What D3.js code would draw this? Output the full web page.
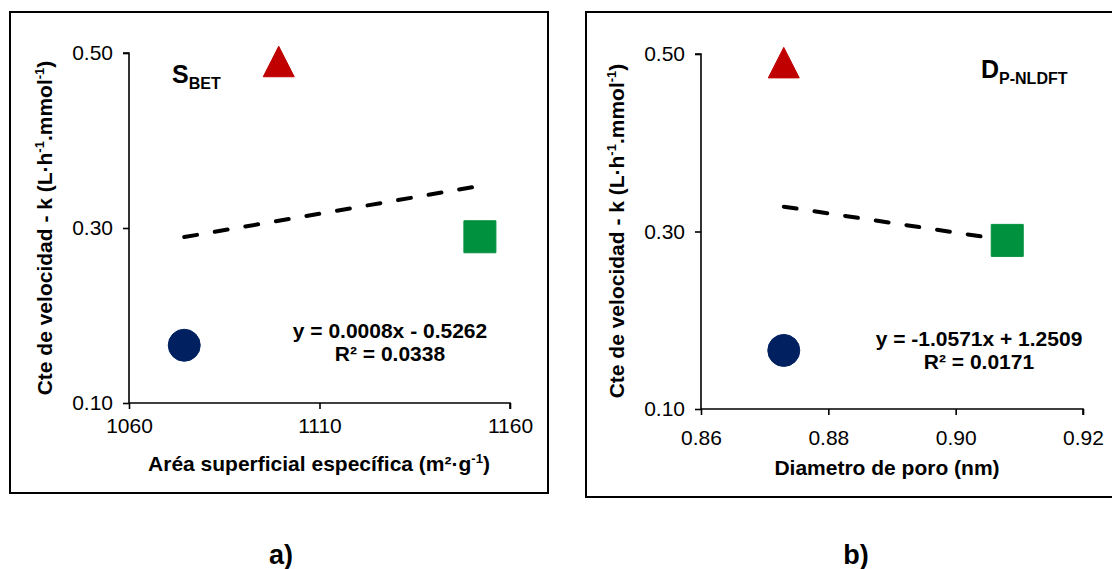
<!DOCTYPE html>
<html>
<head>
<meta charset="utf-8">
<script src="https://cdn.jsdelivr.net/npm/d3@7"></script>
<style>
  body { margin: 0; background: #fff; }
  svg text { font-family: "Liberation Sans", Arial, sans-serif; fill: #000; }
  .bold { font-weight: bold; }
</style>
</head>
<body>
<div id="chart"></div>
<script>
// data (same three samples in both panels)
var areaBET  = [1074.5, 1099.3, 1152.1]
var diamPoro = [0.873, 0.873, 0.9081]
var kRate    = [0.166, 0.49, 0.29]

var yTicks  = [0.10, 0.30, 0.50]
var xTicksA = [1060, 1110, 1160]
var xTicksB = [0.86, 0.88, 0.90, 0.92]

var eqA = ["y = 0.0008x - 0.5262", "R² = 0.0338"]
var eqB = ["y = -1.0571x + 1.2509", "R² = 0.0171"]

var shapes = ["circle", "triangle", "square"]
var colors = ["#002060", "#C00000", "#00913F"]

var W = 1112, H = 569
var svg = d3.select("#chart").append("svg")
    .attr("width", W)
    .attr("height", H)

function fit(xs, ys) {
    var mx = d3.mean(xs), my = d3.mean(ys)
    var sxy = d3.sum(xs, function(d, i) { return (d - mx) * (ys[i] - my) })
    var sxx = d3.sum(xs, function(d) { return (d - mx) * (d - mx) })
    var b = sxy / sxx
    return { b: b, a: my - b * mx }
}

function panel(opt) {
    var g = svg.append("g")

    g.append("rect")
        .attr("x", opt.frame[0]).attr("y", opt.frame[1])
        .attr("width", opt.frame[2]).attr("height", opt.frame[3])
        .attr("fill", "none").attr("stroke", "#000").attr("stroke-width", 2)

    var x = d3.scaleLinear().domain(opt.xDomain).range(opt.xRange)
    var y = d3.scaleLinear().domain([0.10, 0.50]).range(opt.yRange)

    // axes
    var ya = g.append("g")
        .attr("transform", "translate(" + opt.xRange[0] + ",0)")
        .call(d3.axisLeft(y).tickValues(yTicks).tickSize(6).tickPadding(10)
            .tickFormat(d3.format(".2f")))
    var xa = g.append("g")
        .attr("transform", "translate(0," + opt.yRange[0] + ")")
        .call(d3.axisBottom(x).tickValues(opt.xTicks).tickSize(6).tickPadding(opt.xPad)
            .tickFormat(opt.xFmt))
    ;[ya, xa].forEach(function(a) {
        a.select(".domain").attr("stroke", "#000").attr("stroke-width", 1.6)
            .attr("d", a === ya
                ? "M0," + opt.yRange[0] + "V" + opt.yRange[1] + "H-6"
                : "M" + opt.xRange[0] + ",0H" + opt.xRange[1] + "V6")
        a.selectAll(".tick line").attr("stroke", "#000").attr("stroke-width", 1.6)
        a.attr("font-size", 21).attr("font-family", null)
    })

    // trend line
    var xs = opt.xData
    var f = fit(xs, kRate)
    var x0 = d3.min(xs), x1 = d3.max(xs)
    g.append("line")
        .attr("x1", x(x0)).attr("y1", y(f.a + f.b * x0))
        .attr("x2", x(x1)).attr("y2", y(f.a + f.b * x1))
        .attr("stroke", "#000").attr("stroke-width", 4)
        .attr("stroke-linecap", "round")
        .attr("stroke-dasharray", "13,18")

    // markers
    g.selectAll("mark")
        .data(kRate)
        .enter()
        .append("path")
            .attr("transform", function(d, i) { return "translate(" + x(xs[i]) + "," + y(d) + ")" })
            .attr("d", function(d, i) {
                if (shapes[i] == "circle") return "M-16,0a16,16 0 1,0 32,0a16,16 0 1,0 -32,0Z"
                if (shapes[i] == "triangle") return "M0,-15.5L15.5,15L-15.5,15Z"
                return "M-16,-16H16V16H-16Z"
            })
            .attr("fill", function(d, i) { return colors[i] })
            .attr("stroke", function(d, i) { return colors[i] })
            .attr("stroke-width", 1)
            .attr("stroke-linejoin", "round")

    // equation
    g.selectAll("eq")
        .data(opt.eq)
        .enter()
        .append("text")
            .attr("class", "bold")
            .attr("x", opt.eqPos[0])
            .attr("y", function(d, i) { return opt.eqPos[1] + i * 23 })
            .attr("text-anchor", "middle")
            .attr("font-size", 21)
            .text(function(d) { return d })

    // panel label with subscript
    var lab = g.append("text").attr("class", "bold")
        .attr("x", opt.labPos[0]).attr("y", opt.labPos[1])
        .attr("font-size", 25)
    lab.append("tspan").text(opt.lab[0])
    lab.append("tspan").attr("dy", 6).attr("font-size", 16).text(opt.lab[1])

    // y title
    var yt = g.append("text").attr("class", "bold")
        .attr("transform", "translate(" + opt.yTitle[0] + "," + opt.yTitle[1] + ") rotate(-90)")
        .attr("text-anchor", "middle")
        .attr("font-size", 21)
    yt.append("tspan").text("Cte de velocidad - k (L·h")
    yt.append("tspan").attr("dy", -8).attr("font-size", 13).text("-1")
    yt.append("tspan").attr("dy", 8).text(".mmol")
    yt.append("tspan").attr("dy", -8).attr("font-size", 13).text("-1")
    yt.append("tspan").attr("dy", 8).text(")")

    // x title
    var xt = g.append("text").attr("class", "bold")
        .attr("x", opt.xTitle[0]).attr("y", opt.xTitle[1])
        .attr("text-anchor", "middle")
        .attr("font-size", 21)
    opt.xTitleParts.forEach(function(p) {
        var t = xt.append("tspan").text(p[0])
        if (p[1]) t.attr("dy", p[1])
        if (p[2]) t.attr("font-size", p[2])
    })

    svg.append("text").attr("class", "bold")
        .attr("x", opt.sub[0]).attr("y", 564)
        .attr("text-anchor", "middle")
        .attr("font-size", 27)
        .text(opt.sub[1])
}

panel({
    frame: [10, 12, 538, 481],
    xDomain: [1060, 1160], xRange: [129, 510], yRange: [403, 53],
    xTicks: xTicksA, xFmt: d3.format("d"), xPad: 9,
    xData: areaBET,
    eq: eqA, eqPos: [390, 338],
    lab: ["S", "BET"], labPos: [172, 83],
    yTitle: [52, 228],
    xTitle: [319, 471],
    xTitleParts: [["Aréa superficial específica (m²·g"], ["-1", -8, 13], [")", 8]],
    sub: [281, "a)"]
})

panel({
    frame: [586, 12, 540, 485],
    xDomain: [0.86, 0.92], xRange: [701, 1083], yRange: [409, 54],
    xTicks: xTicksB, xFmt: d3.format(".2f"), xPad: 15,
    xData: diamPoro,
    eq: eqB, eqPos: [979, 346],
    lab: ["D", "P-NLDFT"], labPos: [981, 78],
    yTitle: [624, 231],
    xTitle: [887, 475],
    xTitleParts: [["Diametro de poro (nm)"]],
    sub: [856, "b)"]
})
</script>
</body>
</html>
